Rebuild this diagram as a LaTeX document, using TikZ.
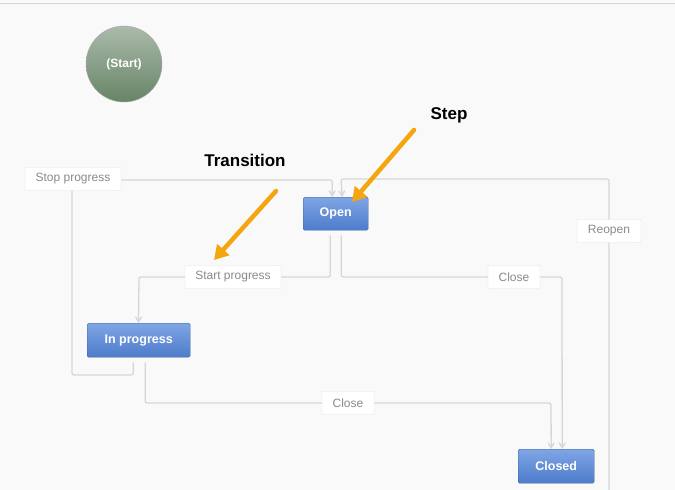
\documentclass[tikz,border=0pt]{standalone}
\usepackage{fontspec}
\setmainfont{Liberation Sans}
\usetikzlibrary{arrows.meta}
\definecolor{bg}{HTML}{F9F9F9}
\definecolor{lin}{HTML}{D6D6D6}
\definecolor{lbl}{HTML}{8A8A8A}
\definecolor{btop}{HTML}{7FA5E4}
\definecolor{bbot}{HTML}{4D7CCB}
\definecolor{bbrd}{HTML}{3E62A3}
\definecolor{orng}{HTML}{F5A60F}
\tikzset{
  stepbox/.style={draw=bbrd, top color=btop, bottom color=bbot, rounded corners=1.5pt, inner sep=0pt, anchor=north west},
  steptext/.style={font=\fontsize{12.5}{14}\selectfont\bfseries, text=white},
  lblbox/.style={draw=lin!70, fill=white, rounded corners=1pt, text=lbl, font=\fontsize{12}{14}\selectfont, inner sep=0pt, minimum height=23pt},
  conn/.style={draw=lin, line width=1.3pt, rounded corners=2pt},
  tip/.style={-{Straight Barb[length=5pt,width=6pt]}},
  note/.style={font=\fontsize{17}{20}\selectfont\bfseries, text=black},
  oarr/.style={draw=orng, line width=4.5pt, line cap=round, -{Triangle[length=14pt,width=16pt]}}
}
\begin{document}
\begin{tikzpicture}[x=1pt,y=-1pt]
\useasboundingbox (0,0) rectangle (675,490);
\fill[bg] (0,0) rectangle (675,490);
\draw[lin, line width=1pt] (0,3) -- (675,3);
% start
\node[circle, draw=gray!70, top color=green!10!gray!60, bottom color=green!20!black!60, minimum size=76pt, inner sep=0pt, text=white, font=\fontsize{12}{14}\selectfont\bfseries] (start) at (124,64) {(Start)};
% steps
\node[stepbox, minimum width=65pt, minimum height=33pt] (open) at (303,197) {};
\node[steptext] at (open.center) {Open};
\node[stepbox, minimum width=103pt, minimum height=34pt] (inprog) at (87,323) {};
\node[steptext] at (inprog.center) {In progress};
\node[stepbox, minimum width=76pt, minimum height=34pt] (closed) at (518,449) {};
\node[steptext] at (closed.center) {Closed};
% connectors
\coordinate (reo) at (609,490);
\draw[conn, tip] ([xshift=-5.5pt,yshift=-5pt]inprog.south) |- (72,375) -- (72,180) -| ([xshift=-3.5pt]open.north);
\draw[conn, tip] (reo) |- (341,179) -- ([xshift=6.5pt]open.north);
\draw[conn, tip] ([xshift=-5.5pt,yshift=-5pt]open.south) |- (139,277) -- ([xshift=-0.5pt]inprog.north west -| 139,0);
\draw[conn, tip] ([xshift=5.5pt,yshift=-5pt]open.south) |- (562,277) -- ([xshift=6pt]closed.north);
\draw[conn, tip] ([xshift=6.5pt,yshift=-5pt]inprog.south) |- (551,403) -- ([xshift=-5pt]closed.north);
% labels
\node[lblbox, minimum width=96pt] (lstop) at (73,179) {Stop progress};
\node[lblbox, minimum width=96pt] (lstart) at (233,277) {Start progress};
\node[lblbox, minimum width=52pt] (lclose1) at (514,277) {Close};
\node[lblbox, minimum width=64pt] (lreopen) at (609,231) {Reopen};
\node[lblbox, minimum width=52pt] (lclose2) at (348,403) {Close};
% annotations
\node[note] (nstep) at (449,115) {Step};
\node[note] (ntrans) at (245,160) {Transition};
\coordinate (sa) at (414,130); \coordinate (sb) at (352,202);
\coordinate (ta) at (276,191); \coordinate (tb) at (214,260);
\draw[oarr] (sa) -- (sb);
\draw[oarr] (ta) -- (tb);
\end{tikzpicture}
\end{document}
